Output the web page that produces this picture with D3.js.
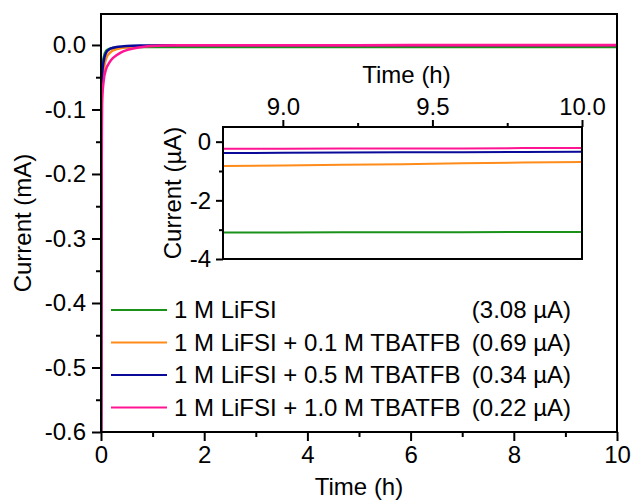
<!DOCTYPE html>
<html>
<head>
<meta charset="utf-8">
<script src="https://cdn.jsdelivr.net/npm/d3@7"></script>
<style>
  body { margin: 0; background: #fff; }
  text { font-family: "Liberation Sans", Arial, Helvetica, sans-serif; fill: #000; }
</style>
</head>
<body>
<svg id="chart" width="635" height="502"></svg>
<script>
// ---- data -------------------------------------------------------------
const seriesNames = [
  "1 M LiFSI",
  "1 M LiFSI + 0.1 M TBATFB",
  "1 M LiFSI + 0.5 M TBATFB",
  "1 M LiFSI + 1.0 M TBATFB"
];
const leakageLabels = ["(3.08 \u00b5A)", "(0.69 \u00b5A)", "(0.34 \u00b5A)", "(0.22 \u00b5A)"];

// full 10 h chronoamperometry (time in h, current in mA)
const timeMain = [0, 0.01, 0.02, 0.05, 0.1, 0.15, 0.2, 0.3, 0.4, 0.5, 0.6, 0.8, 1.0, 1.5, 2, 4, 6, 8, 10];
const currentLiFSI   = [-0.70, -0.090, -0.040, -0.020, -0.009, -0.0065, -0.0052, -0.0042, -0.0037, -0.0035, -0.0034, -0.0033, -0.0032, -0.0031, -0.0031, -0.0031, -0.0031, -0.00309, -0.00308];
const currentTB01    = [-0.75, -0.160, -0.075, -0.041, -0.021, -0.014, -0.010, -0.0065, -0.0048, -0.0036, -0.0028, -0.0018, -0.0013, -0.0009, -0.0008, -0.00078, -0.00075, -0.00072, -0.00069];
const currentTB05    = [-0.72, -0.110, -0.050, -0.026, -0.012, -0.0075, -0.0052, -0.0032, -0.0022, -0.0016, -0.0012, -0.0009, -0.0007, -0.0005, -0.00045, -0.0004, -0.00037, -0.00035, -0.00034];
const currentTB10    = [-0.80, -0.250, -0.090, -0.057, -0.037, -0.029, -0.023, -0.016, -0.011, -0.008, -0.006, -0.003, -0.0015, -0.0006, -0.0004, -0.0003, -0.00025, -0.00023, -0.00022];

// tail of the same runs (time in h, current in µA)
const timeInset = [8.8, 9.0, 9.2, 9.4, 9.6, 9.8, 10.0];
const tailLiFSI = [-3.10, -3.10, -3.09, -3.09, -3.09, -3.08, -3.08];
const tailTB01  = [-0.83, -0.81, -0.79, -0.77, -0.74, -0.71, -0.69];
const tailTB05  = [-0.39, -0.38, -0.37, -0.36, -0.36, -0.35, -0.34];
const tailTB10  = [-0.24, -0.24, -0.23, -0.23, -0.23, -0.22, -0.22];

// axis ticks
const mainXTicks = [0, 2, 4, 6, 8, 10];
const mainXMinor = [1, 3, 5, 7, 9];
const mainYTicks = [0, -0.1, -0.2, -0.3, -0.4, -0.5, -0.6];
const mainYMinor = [-0.05, -0.15, -0.25, -0.35, -0.45, -0.55];
const insetXTicks = [9.0, 9.5, 10.0];
const insetXMinor = [9.25, 9.75];
const insetYTicks = [0, -2, -4];
const insetYMinor = [-1, -3];

const colors = ["#1a921a", "#ff8c1a", "#0a0a9a", "#ff1493"];

// ---- layout -----------------------------------------------------------
const svg = d3.select("#chart");
const main = { left: 101, right: 617, top: 14, bottom: 432 };
const inset = { left: 223, right: 582, top: 127, bottom: 259 };
const FS = 24;

const x = d3.scaleLinear().domain([0, 10]).range([main.left, main.right]);
const y = d3.scaleLinear().domain([-0.6, 0.048]).range([main.bottom, main.top]);
const xi = d3.scaleLinear().domain([8.8, 10.0]).range([inset.left, inset.right]);
const yi = d3.scaleLinear().domain([-4, 0.5]).range([inset.bottom, inset.top]);

function styleAxis(g, size) {
  g.select(".domain").remove();
  g.selectAll(".tick line").attr("stroke", "#000").attr("stroke-width", 2);
  g.selectAll(".tick text").style("font-size", size + "px").attr("fill", "#000");
}

// ---- main plot --------------------------------------------------------
svg.append("clipPath").attr("id", "mainClip")
  .append("rect")
  .attr("x", main.left).attr("y", main.top)
  .attr("width", main.right - main.left).attr("height", main.bottom - main.top);

const mainSeries = [currentLiFSI, currentTB01, currentTB05, currentTB10];
const lineMain = d3.line()
  .x((d, i) => x(timeMain[i]))
  .y(d => y(d))
  .curve(d3.curveMonotoneX);

svg.append("g").attr("clip-path", "url(#mainClip)")
  .selectAll("path").data(mainSeries).join("path")
  .attr("d", lineMain)
  .attr("fill", "none")
  .attr("stroke", (d, i) => colors[i])
  .attr("stroke-width", 2.5)
  .attr("stroke-linejoin", "round");

// axes
svg.append("g").attr("transform", `translate(0,${main.bottom})`)
  .call(d3.axisBottom(x).tickValues(mainXTicks).tickSize(9).tickPadding(5).tickFormat(d => String(d)))
  .call(g => styleAxis(g, FS));
svg.append("g").attr("transform", `translate(0,${main.bottom})`)
  .call(d3.axisBottom(x).tickValues(mainXMinor).tickSize(5).tickFormat(""))
  .call(g => styleAxis(g, FS));
svg.append("g").attr("transform", `translate(${main.left},0)`)
  .call(d3.axisLeft(y).tickValues(mainYTicks).tickSize(9).tickPadding(6).tickFormat(d => d.toFixed(1)))
  .call(g => styleAxis(g, FS));
svg.append("g").attr("transform", `translate(${main.left},0)`)
  .call(d3.axisLeft(y).tickValues(mainYMinor).tickSize(5).tickFormat(""))
  .call(g => styleAxis(g, FS));

svg.append("rect")
  .attr("x", main.left).attr("y", main.top)
  .attr("width", main.right - main.left).attr("height", main.bottom - main.top)
  .attr("fill", "none").attr("stroke", "#000").attr("stroke-width", 2);

svg.append("text")
  .attr("x", (main.left + main.right) / 2).attr("y", 495)
  .attr("text-anchor", "middle").style("font-size", FS + "px")
  .text("Time (h)");
svg.append("text")
  .attr("transform", `translate(31,${(main.top + main.bottom) / 2}) rotate(-90)`)
  .attr("text-anchor", "middle").style("font-size", FS + "px")
  .text("Current (mA)");

// ---- inset ------------------------------------------------------------
svg.append("rect")
  .attr("x", inset.left).attr("y", inset.top)
  .attr("width", inset.right - inset.left).attr("height", inset.bottom - inset.top)
  .attr("fill", "#fff");

const insetSeries = [tailLiFSI, tailTB01, tailTB05, tailTB10];
const lineInset = d3.line()
  .x((d, i) => xi(timeInset[i]))
  .y(d => yi(d));

svg.append("g")
  .selectAll("path").data(insetSeries).join("path")
  .attr("d", lineInset)
  .attr("fill", "none")
  .attr("stroke", (d, i) => colors[i])
  .attr("stroke-width", 2);

svg.append("g").attr("transform", `translate(0,${inset.top})`)
  .call(d3.axisTop(xi).tickValues(insetXTicks).tickSize(7).tickPadding(5).tickFormat(d => d.toFixed(1)))
  .call(g => styleAxis(g, FS));
svg.append("g").attr("transform", `translate(0,${inset.top})`)
  .call(d3.axisTop(xi).tickValues(insetXMinor).tickSize(4).tickFormat(""))
  .call(g => styleAxis(g, FS));
svg.append("g").attr("transform", `translate(${inset.left},0)`)
  .call(d3.axisLeft(yi).tickValues(insetYTicks).tickSize(7).tickPadding(5).tickFormat(d => String(d)))
  .call(g => styleAxis(g, FS));
svg.append("g").attr("transform", `translate(${inset.left},0)`)
  .call(d3.axisLeft(yi).tickValues(insetYMinor).tickSize(4).tickFormat(""))
  .call(g => styleAxis(g, FS));

svg.append("rect")
  .attr("x", inset.left).attr("y", inset.top)
  .attr("width", inset.right - inset.left).attr("height", inset.bottom - inset.top)
  .attr("fill", "none").attr("stroke", "#000").attr("stroke-width", 2);

svg.append("text")
  .attr("x", (inset.left + inset.right) / 2 + 4).attr("y", 83)
  .attr("text-anchor", "middle").style("font-size", FS + "px")
  .text("Time (h)");
svg.append("text")
  .attr("transform", `translate(181,${(inset.top + inset.bottom) / 2}) rotate(-90)`)
  .attr("text-anchor", "middle").style("font-size", FS + "px")
  .text("Current (\u00b5A)");

// ---- legend -----------------------------------------------------------
const legend = svg.append("g");
const rowY = d3.scalePoint().domain(d3.range(seriesNames.length)).range([310, 407.5]);
const rows = legend.selectAll("g").data(seriesNames).join("g")
  .attr("transform", (d, i) => `translate(0,${rowY(i)})`);
rows.append("line")
  .attr("x1", 111).attr("x2", 167)
  .attr("stroke", (d, i) => colors[i]).attr("stroke-width", 2);
rows.append("text")
  .attr("x", 174).attr("dy", "0.35em")
  .style("font-size", FS + "px")
  .text(d => d);
rows.append("text")
  .attr("x", 571).attr("dy", "0.35em")
  .attr("text-anchor", "end")
  .style("font-size", FS + "px")
  .text((d, i) => leakageLabels[i]);
</script>
</body>
</html>
